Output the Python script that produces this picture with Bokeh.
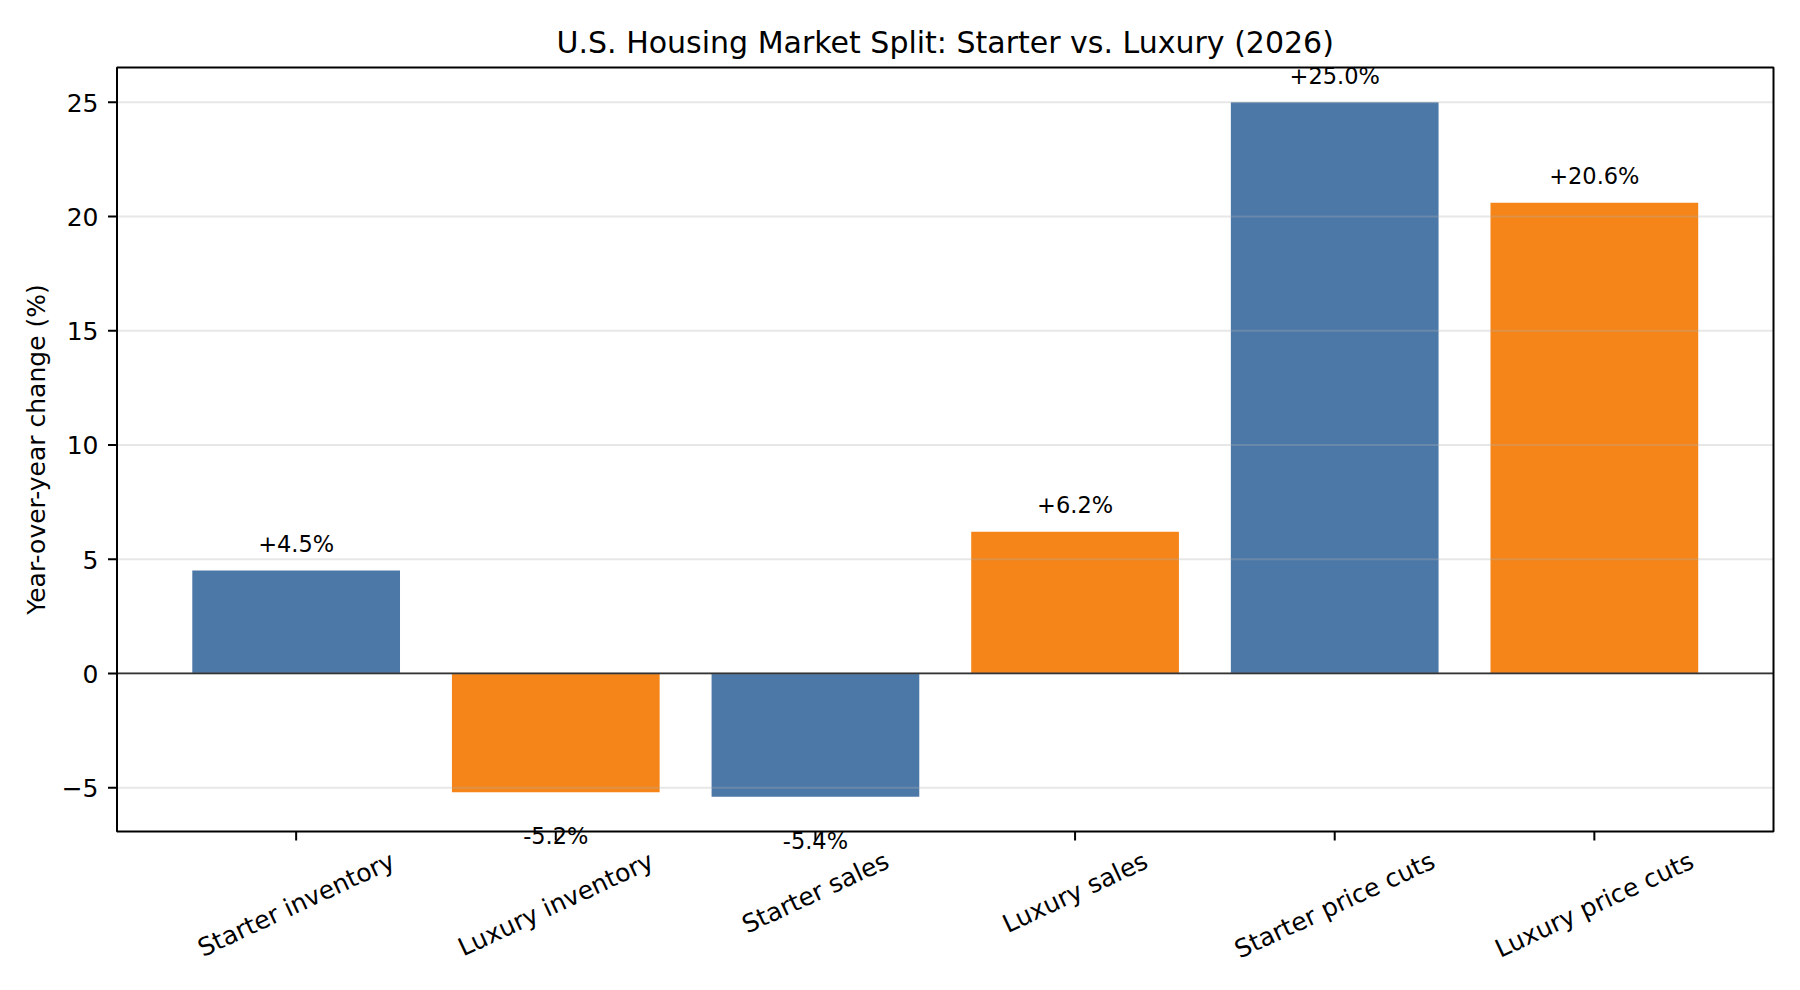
import math
from bokeh.plotting import figure
from bokeh.models import ColumnDataSource, LabelSet, Range1d
from bokeh.core.properties import value
from bokeh.embed import file_html
from bokeh.resources import INLINE

# ---- data ----
categories = ["Starter inventory", "Luxury inventory", "Starter sales",
              "Luxury sales", "Starter price cuts", "Luxury price cuts"]
segments = ["Starter", "Luxury", "Starter", "Luxury", "Starter", "Luxury"]
values = [4.5, -5.2, -5.4, 6.2, 25.0, 20.6]
y_ticks = [-5, 0, 5, 10, 15, 20, 25]
title_text = "U.S. Housing Market Split: Starter vs. Luxury (2026)"
y_label = "Year-over-year change (%)"

segment_colors = {"Starter": "#4C78A8", "Luxury": "#F58518"}
FONT = value("DejaVu Sans")

xs = list(range(len(categories)))
colors = [segment_colors[s] for s in segments]
value_texts = [f"{v:+.1f}%" for v in values]
tick_texts = [("\u2212" + str(abs(t)) if t < 0 else str(t)) for t in y_ticks]

# ---- matplotlib-like axes box limits (5% margins) ----
bar_w = 0.8
d_x0, d_x1 = -bar_w / 2, len(categories) - 1 + bar_w / 2
bx0 = d_x0 - (d_x1 - d_x0) * 0.05
bx1 = d_x1 + (d_x1 - d_x0) * 0.05
d_lo, d_hi = min(0, min(values)), max(0, max(values))
y_lo = d_lo - (d_hi - d_lo) * 0.05
y_hi = d_hi + (d_hi - d_lo) * 0.05

# box geometry on the canvas (pixels)
CW, CH = 1784, 974
box_left, box_top, box_w, box_h = 116.5, 67.0, 1656.5, 764.0
ppx = box_w / (bx1 - bx0)
ppu = box_h / (y_hi - y_lo)
x_start = bx0 - box_left / ppx
y_top = y_hi + box_top / ppu

p = figure(frame_width=CW, frame_height=CH,
           x_range=Range1d(x_start, x_start + CW / ppx),
           y_range=Range1d(y_top - CH / ppu, y_top),
           x_axis_location=None, y_axis_location=None,
           output_backend="svg", toolbar_location=None)
p.min_border = 0
p.outline_line_color = None
p.background_fill_color = "white"
p.border_fill_color = "white"
p.xgrid.visible = False
p.ygrid.visible = False

# bars
src = ColumnDataSource(dict(x=xs, v=values, color=colors))
p.vbar(x="x", top="v", bottom=0, width=bar_w, fill_color="color",
       line_color=None, source=src)

# horizontal grid (above bars, as in the reference)
p.segment(x0=[bx0] * len(y_ticks), x1=[bx1] * len(y_ticks), y0=y_ticks, y1=y_ticks,
          line_color="#b0b0b0", line_alpha=0.3, line_width=2)

# zero line
p.segment(x0=[bx0], x1=[bx1], y0=[0], y1=[0], line_color="#333333", line_width=1.8)

# axes box
p.quad(left=[bx0], right=[bx1], bottom=[y_lo], top=[y_hi], fill_color=None,
       line_color="black", line_width=2)

# ticks
tick_len = 9
p.segment(x0=[bx0] * len(y_ticks), x1=[bx0 - tick_len / ppx] * len(y_ticks),
          y0=y_ticks, y1=y_ticks, line_color="black", line_width=2)
p.segment(x0=xs, x1=xs, y0=[y_lo] * len(xs), y1=[y_lo - tick_len / ppu] * len(xs),
          line_color="black", line_width=2)

# y tick labels
ysrc = ColumnDataSource(dict(x=[bx0 - 18.5 / ppx] * len(y_ticks),
                             y=[t - 9.5 / ppu for t in y_ticks], t=tick_texts))
p.add_layout(LabelSet(x="x", y="y", text="t", source=ysrc, text_align="right",
                      text_baseline="alphabetic", text_font=FONT,
                      text_font_size=value("25px"), text_color="black"))

# y axis label
lsrc = ColumnDataSource(dict(x=[bx0 - (box_left - 44) / ppx], y=[(y_lo + y_hi) / 2], t=[y_label]))
p.add_layout(LabelSet(x="x", y="y", text="t", source=lsrc, angle=math.pi / 2,
                      text_align="center", text_baseline="alphabetic", text_font=FONT,
                      text_font_size=value("25px"), text_color="black"))

# title
tsrc = ColumnDataSource(dict(x=[(bx0 + bx1) / 2], y=[y_hi + 15 / ppu], t=[title_text]))
p.add_layout(LabelSet(x="x", y="y", text="t", source=tsrc, text_align="center",
                      text_baseline="alphabetic", text_font=FONT,
                      text_font_size=value("30px"), text_color="black"))

# value labels
lab_y = [v + 18.5 / ppu if v >= 0 else v - 52 / ppu for v in values]
vsrc = ColumnDataSource(dict(x=xs, y=lab_y, t=value_texts))
p.add_layout(LabelSet(x="x", y="y", text="t", source=vsrc, text_align="center",
                      text_baseline="alphabetic", text_font=FONT,
                      text_font_size=value("22.5px"), text_color="black"))

# rotated category labels (matplotlib-style: rotated bbox centred under tick)
adv = {" ": 0.318, "S": 0.635, "L": 0.557, "a": 0.613, "c": 0.550, "e": 0.615,
       "i": 0.278, "l": 0.278, "n": 0.634, "o": 0.612, "p": 0.635, "r": 0.411,
       "s": 0.521, "t": 0.392, "u": 0.634, "v": 0.592, "x": 0.592, "y": 0.592}
fs = 25.0
ang = math.radians(25)
cy = []
for c in categories:
    w = sum(adv.get(ch, 0.6) for ch in c) * fs
    h = 1.164 * fs
    cy.append(y_lo - (17.5 + (w * math.sin(ang) + h * math.cos(ang)) / 2 - 3) / ppu)
csrc = ColumnDataSource(dict(x=xs, y=cy, t=categories))
p.add_layout(LabelSet(x="x", y="y", text="t", source=csrc, angle=ang,
                      text_align="center", text_baseline="middle", text_font=FONT,
                      text_font_size=value("25px"), text_color="black"))

open("out.html", "w").write(file_html(p, INLINE))
